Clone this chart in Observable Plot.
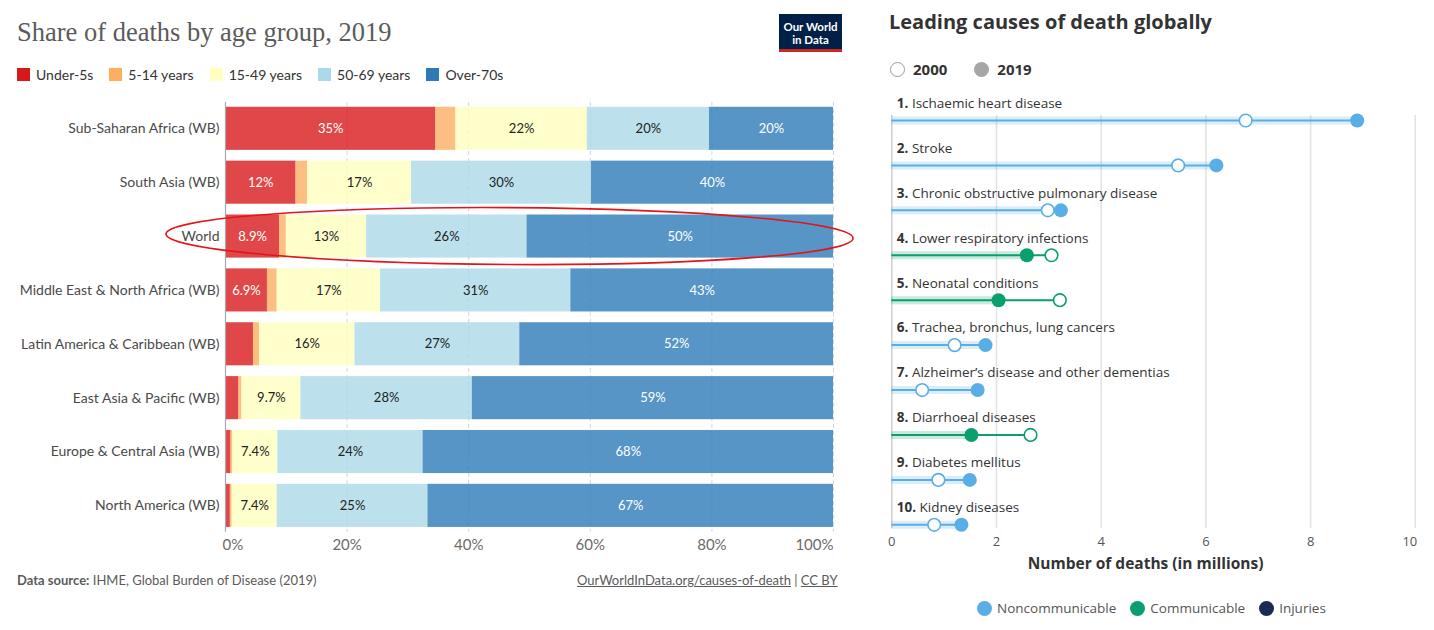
<!DOCTYPE html>
<html>
<head>
<meta charset="utf-8">
<script src="https://cdn.jsdelivr.net/npm/d3@7"></script>
<script src="https://cdn.jsdelivr.net/npm/@observablehq/plot@0.6"></script>
<style>
  html, body { margin: 0; padding: 0; background: #fff; }
  body { width: 1434px; height: 630px; position: relative; overflow: hidden; font-family: Lato, sans-serif; }
  .abs { position: absolute; }
  #ltitle { left: 17px; top: 17px; font-family: "Liberation Serif", serif; font-size: 26.5px; color: #5b5b5b; white-space: nowrap; line-height: 30px; }
  #logo { left: 779px; top: 14px; width: 63px; background: #002147; border-bottom: 3px solid #ce261e; color: #fff; font-family: Lato, sans-serif; font-weight: bold; font-size: 11.5px; line-height: 13px; text-align: center; padding-top: 6px; box-sizing: content-box; height: 29px; }
  #llegend { left: 17px; top: 66px; display: flex; align-items: center; font-size: 14px; color: #333; white-space: nowrap; }
  #llegend .item { display: flex; align-items: center; margin-right: 16px; }
  #llegend .sw { width: 13px; height: 13px; margin-right: 6px; }
  #lplot { left: 0px; top: 96px; }
  #lsource { left: 17px; top: 572px; font-size: 13px; color: #5b5b5b; white-space: nowrap; }
  #lurl { left: 577px; top: 572px; font-size: 13px; color: #5b5b5b; white-space: nowrap; }
  #lurl span.u { text-decoration: underline; }
  #rtitle { left: 889px; top: 8px; font-family: "Open Sans", sans-serif; font-weight: bold; font-size: 20px; color: #333; white-space: nowrap; }
  #ryears { left: 890px; top: 59px; font-family: "Open Sans", sans-serif; font-weight: bold; font-size: 15px; color: #333; display: flex; align-items: center; white-space: nowrap; }
  #ryears .c { width: 15px; height: 15px; border-radius: 50%; margin-right: 8px; box-sizing: border-box; }
  #ryears .item { display: flex; align-items: center; margin-right: 27px; }
  #rplot { left: 870px; top: 85px; }
  #rlegend { left: 977px; top: 599px; font-family: "Open Sans", sans-serif; font-size: 13.5px; color: #555; display: flex; align-items: center; white-space: nowrap; }
  #rlegend .item { display: flex; align-items: center; margin-right: 14px; }
  #rlegend .c { width: 15px; height: 15px; border-radius: 50%; margin-right: 5px; }
</style>
</head>
<body>
<div id="ltitle" class="abs">Share of deaths by age group, 2019</div>
<div id="logo" class="abs">Our World<br>in Data</div>
<div id="llegend" class="abs"></div>
<div id="lplot" class="abs"></div>
<div id="lsource" class="abs"><b>Data source:</b> IHME, Global Burden of Disease (2019)</div>
<div id="lurl" class="abs"><span class="u">OurWorldInData.org/causes-of-death</span> | <span class="u">CC BY</span></div>

<div id="rtitle" class="abs">Leading causes of death globally</div>
<div id="ryears" class="abs"></div>
<div id="rplot" class="abs"></div>
<div id="rlegend" class="abs"></div>

<script>
// ---------------- Left chart data ----------------
const regions = [
  "Sub-Saharan Africa (WB)",
  "South Asia (WB)",
  "World",
  "Middle East & North Africa (WB)",
  "Latin America & Caribbean (WB)",
  "East Asia & Pacific (WB)",
  "Europe & Central Asia (WB)",
  "North America (WB)"
];
const ageGroups = ["Under-5s", "5-14 years", "15-49 years", "50-69 years", "Over-70s"];
const ageColors = ["#d7191c", "#fdae61", "#ffffbf", "#abd9e9", "#2c7bb6"];
const under5   = [34.6, 11.6,  8.9,  6.9,  4.6,  2.2,  0.9,  0.8];
const age5to14 = [ 3.3,  1.9,  1.1,  1.6,  1.0,  0.5,  0.3,  0.3];
const age15to49= [21.6, 17.1, 13.2, 17.0, 15.7,  9.7,  7.4,  7.4];
const age50to69= [20.1, 29.6, 26.4, 31.3, 27.1, 28.2, 23.9, 24.8];
const over70   = [20.4, 39.8, 50.4, 43.2, 51.6, 59.4, 67.5, 66.7];
const xTicks = [0, 20, 40, 60, 80, 100];

// ---------------- Right chart data ----------------
const causes = [
  "Ischaemic heart disease",
  "Stroke",
  "Chronic obstructive pulmonary disease",
  "Lower respiratory infections",
  "Neonatal conditions",
  "Trachea, bronchus, lung cancers",
  "Alzheimer’s disease and other dementias",
  "Diarrhoeal diseases",
  "Diabetes mellitus",
  "Kidney diseases"
];
const deaths2000 = [6.76, 5.47, 2.98, 3.05, 3.21, 1.20, 0.58, 2.65, 0.89, 0.81];
const deaths2019 = [8.89, 6.20, 3.23, 2.58, 2.04, 1.79, 1.64, 1.52, 1.49, 1.33];
const causeGroup = ["Noncommunicable", "Noncommunicable", "Noncommunicable", "Communicable", "Communicable",
                    "Noncommunicable", "Noncommunicable", "Communicable", "Noncommunicable", "Noncommunicable"];
const groupNames = ["Noncommunicable", "Communicable", "Injuries"];
const groupColors = ["#5aaee6", "#0b9e6f", "#1b2a55"];
const deathTicks = [0, 2, 4, 6, 8, 10];

// ---------------- Left legend ----------------
const ll = document.getElementById("llegend");
ageGroups.forEach((g, i) => {
  const it = document.createElement("div"); it.className = "item";
  const sw = document.createElement("div"); sw.className = "sw"; sw.style.background = ageColors[i];
  const t = document.createElement("span"); t.textContent = g;
  it.append(sw, t); ll.append(it);
});

// ---------------- Left plot ----------------
const series = [under5, age5to14, age15to49, age50to69, over70];
const leftData = regions.flatMap((r, i) => ageGroups.map((g, j) => ({region: r, group: g, value: series[j][i]})));
const fmt = d3.format(".2r");
const whiteGroups = new Set(["Under-5s", "Over-70s"]);

function ellipseMark(index, scales) {
  const x = scales.x, y = scales.y;
  let bw = y.bandwidth;
  bw = typeof bw === "function" ? bw() : (bw ?? 43);
  const x0 = x(-9.7), x1 = x(103.3);
  const cx = (x0 + x1) / 2, rx = (x1 - x0) / 2;
  const cy = y("World") + bw / 2, ry = bw * 0.66;
  const e = document.createElementNS("http://www.w3.org/2000/svg", "ellipse");
  e.setAttribute("cx", cx); e.setAttribute("cy", cy);
  e.setAttribute("rx", rx); e.setAttribute("ry", ry);
  e.setAttribute("fill", "none"); e.setAttribute("stroke", "#e3141b"); e.setAttribute("stroke-width", 1.6);
  e.setAttribute("transform", `rotate(0.35 ${cx} ${cy})`);
  return e;
}

const left = Plot.plot({
  width: 845, height: 465,
  marginLeft: 225, marginRight: 12, marginTop: 0, marginBottom: 23.3,
  x: {domain: [0, 100], axis: null},
  y: {domain: regions, padding: 0.2, round: false, axis: null},
  color: {domain: ageGroups, range: ageColors},
  style: {fontFamily: "Lato, sans-serif", background: "transparent", overflow: "visible"},
  marks: [
    Plot.ruleX(xTicks.slice(1), {stroke: "#d6d6d6", strokeDasharray: "4,3", insetTop: 6, insetBottom: 6}),
    Plot.barX(leftData, Plot.stackX({x: "value", y: "region", fill: "group", fillOpacity: 0.8})),
    Plot.text(leftData, Plot.stackX({x: "value", y: "region", z: "group",
      text: d => (whiteGroups.has(d.group) && d.value >= 5) ? fmt(d.value) + "%" : "",
      fill: "white", fontSize: 13})),
    Plot.text(leftData, Plot.stackX({x: "value", y: "region", z: "group",
      text: d => (!whiteGroups.has(d.group) && d.value >= 5) ? fmt(d.value) + "%" : "",
      fill: "#222", fontSize: 13})),
    Plot.ruleX([0], {stroke: "#a8a8a8", strokeWidth: 1.2, insetTop: 6, insetBottom: 6}),
    Plot.axisY({tickSize: 0, tickPadding: 6, fontSize: 14, color: "#4a4a4a", label: null}),
    Plot.text([xTicks[0]], {x: d => d, text: d => d + "%", frameAnchor: "bottom", dy: 12, textAnchor: "start", dx: -3, fontSize: 15, fill: "#6b6b6b"}),
    Plot.text(xTicks.slice(1, -1), {x: d => d, text: d => d + "%", frameAnchor: "bottom", dy: 12, fontSize: 15, fill: "#6b6b6b"}),
    Plot.text([xTicks[xTicks.length - 1]], {x: d => d, text: d => d + "%", frameAnchor: "bottom", dy: 12, textAnchor: "end", fontSize: 15, fill: "#6b6b6b"}),
    ellipseMark
  ]
});
document.getElementById("lplot").append(left);

// ---------------- Right header legend ----------------
const ry = document.getElementById("ryears");
[["2000", "open"], ["2019", "fill"]].forEach(([y, k]) => {
  const it = document.createElement("div"); it.className = "item";
  const c = document.createElement("div"); c.className = "c";
  if (k === "open") { c.style.border = "1.5px solid #9a9a9a"; c.style.background = "#fff"; }
  else { c.style.background = "#a6a6a6"; }
  const t = document.createElement("span"); t.textContent = y;
  it.append(c, t); ry.append(it);
});

// ---------------- Right plot ----------------
const rightData = causes.map((c, i) => ({cause: c, rank: i + 1, y2000: deaths2000[i], y2019: deaths2019[i], group: causeGroup[i]}));

const right = Plot.plot({
  width: 564, height: 500,
  marginLeft: 21.3, marginRight: 19.2, marginTop: 35, marginBottom: 60.7,
  x: {domain: [0, 10], axis: null},
  y: {type: "point", domain: causes, padding: 0, round: false, axis: null},
  color: {domain: groupNames, range: groupColors},
  style: {fontFamily: "'Open Sans', sans-serif", background: "transparent", overflow: "visible"},
  marks: [
    Plot.ruleX(deathTicks.slice(1), {stroke: "#e2e2e2", strokeWidth: 1.5, insetTop: -5, insetBottom: -4}),
    Plot.ruleX([0], {stroke: "#d0d0d0", strokeWidth: 1.5, insetTop: -5, insetBottom: -4}),
    Plot.ruleY(rightData, {y: "cause", x1: 0, x2: "y2019", stroke: "group", strokeOpacity: 0.22, strokeWidth: 8}),
    Plot.ruleY(rightData, {y: "cause", x1: 0, x2: d => Math.max(d.y2000, d.y2019), stroke: "group", strokeWidth: 2}),
    Plot.dot(rightData, {x: "y2000", y: "cause", r: 6.3, fill: "white", stroke: "group", strokeWidth: 1.6}),
    Plot.dot(rightData, {x: "y2019", y: "cause", r: 7, fill: "group"}),
    Plot.text(rightData, {y: "cause", frameAnchor: "left", dx: 5, dy: -17, textAnchor: "start",
      text: d => `${d.rank}. ${d.cause}`, fontSize: 13.5, fill: "#333"}),
    Plot.text(deathTicks.slice(0, -1), {x: d => d, text: d => String(d), frameAnchor: "bottom", dy: 21, fontSize: 13, fill: "#555"}),
    Plot.text(deathTicks.slice(-1), {x: d => d, text: d => String(d), frameAnchor: "bottom", dy: 21, dx: 2, textAnchor: "end", fontSize: 13, fill: "#555"}),
    Plot.text(["Number of deaths (in millions)"], {frameAnchor: "bottom", dy: 44, dx: -8, fontSize: 15.5, fontWeight: "bold", fill: "#333"})
  ]
});
// bold rank numbers
right.querySelectorAll("text").forEach(t => {
  const m = t.textContent.match(/^(\d+\.)\s(.+)$/);
  if (m && t.children.length === 0) {
    t.textContent = "";
    const a = document.createElementNS("http://www.w3.org/2000/svg", "tspan");
    a.setAttribute("font-weight", "bold"); a.textContent = m[1];
    const b = document.createElementNS("http://www.w3.org/2000/svg", "tspan");
    b.textContent = " " + m[2];
    t.append(a, b);
  }
});
document.getElementById("rplot").append(right);

// ---------------- Right bottom legend ----------------
const rl = document.getElementById("rlegend");
groupNames.forEach((g, i) => {
  const it = document.createElement("div"); it.className = "item";
  const c = document.createElement("div"); c.className = "c"; c.style.background = groupColors[i];
  const t = document.createElement("span"); t.textContent = g;
  it.append(c, t); rl.append(it);
});
</script>
</body>
</html>
